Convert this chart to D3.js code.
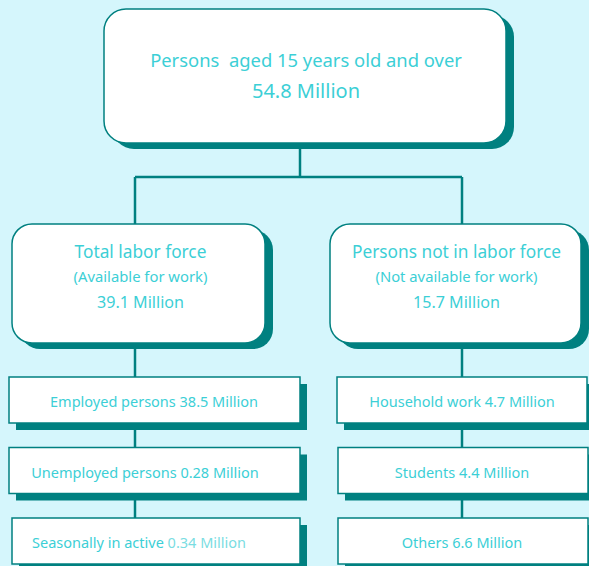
<!DOCTYPE html>
<html><head><meta charset="utf-8">
<script src="https://cdn.jsdelivr.net/npm/d3@7"></script>
<style>html,body{margin:0;padding:0;background:#d5f6fc;overflow:hidden}</style>
</head><body>
<svg id="c" width="589" height="566"></svg>
<script>
// ---- data ----
const rootLabel = "Persons\u00a0 aged 15 years old and over";
const rootValue = 54.8;
const groupLabels = ["Total labor force", "Persons not in labor force"];
const groupNotes = ["(Available for work)", "(Not available for work)"];
const groupValues = [39.1, 15.7];
const leftItems = ["Employed persons", "Unemployed persons", "Seasonally in active"];
const leftValues = [38.5, 0.28, 0.34];
const rightItems = ["Household work", "Students", "Others"];
const rightValues = [4.7, 4.4, 6.6];

// ---- style ----
const teal = "#008080", txt = "#3ccfd6", txtLight = "#7adde2", font = "'Noto Sans', sans-serif";
const svg = d3.select("#c");

function box(x, y, w, h, r, sx, sy) {
  svg.append("rect").attr("x", x + sx).attr("y", y + sy).attr("width", w).attr("height", h)
    .attr("rx", r).attr("fill", teal);
  svg.append("rect").attr("x", x).attr("y", y).attr("width", w).attr("height", h)
    .attr("rx", r).attr("fill", "#fff").attr("stroke", teal).attr("stroke-width", 1.5);
}
function line(x1, y1, x2, y2) {
  svg.append("line").attr("x1", x1).attr("y1", y1).attr("x2", x2).attr("y2", y2)
    .attr("stroke", teal).attr("stroke-width", 2.5);
}
function text(x, y, s, size, fill) {
  return svg.append("text").attr("x", x).attr("y", y).attr("text-anchor", "middle")
    .attr("font-family", font).attr("font-size", size).attr("fill", fill || txt).text(s);
}

// connectors
const colX = [135, 462];
line(300, 145, 300, 177);
line(colX[0], 177, colX[1], 177);
colX.forEach(x => line(x, 177, x, 226));

const rowY = d3.scalePoint().domain([0, 1, 2]).range([377, 518]);
colX.forEach(x => line(x, 340, x, 530));

// root
box(104, 9, 402, 134, 22, 8, 6);
text(306, 67, rootLabel, 18.4);
text(306, 98, rootValue + " Million", 20);

// groups
const gBox = [{x: 12, w: 253}, {x: 330, w: 251}];
gBox.forEach((b, i) => {
  box(b.x, 224, b.w, 119, 20, 8, 6);
  const cx = b.x + b.w / 2 + (i === 0 ? 2 : 1);
  text(cx, 258, groupLabels[i], 17.3);
  text(cx, 282, groupNotes[i], 14.8);
  text(cx, 308, groupValues[i] + " Million", 16.1);
});

// leaf boxes
const leftBoxes = [{x: 9, w: 291}, {x: 9, w: 291}, {x: 12, w: 288}];
const rightBoxes = [{x: 337, w: 250}, {x: 338, w: 250}, {x: 338, w: 250}];
leftItems.forEach((s, i) => {
  const b = leftBoxes[i], y = rowY(i);
  box(b.x, y, b.w, 46, 0, 7, 7);
  if (i === 2) {
    const t = svg.append("text").attr("x", 139).attr("y", y + 30).attr("text-anchor", "middle")
      .attr("font-family", font).attr("font-size", 14.5).attr("fill", txt);
    t.append("tspan").text(s + " ");
    t.append("tspan").attr("fill", txtLight).text(leftValues[i] + " Million");
  } else {
    text(i === 0 ? 154 : 145, y + 30, s + " " + leftValues[i] + " Million", 14.5);
  }
});
rightItems.forEach((s, i) => {
  const b = rightBoxes[i], y = rowY(i);
  box(b.x, y, b.w, 46, 0, 7, 7);
  text(462, y + 30, s + " " + rightValues[i] + " Million", 14.5);
});
</script>
</body></html>
